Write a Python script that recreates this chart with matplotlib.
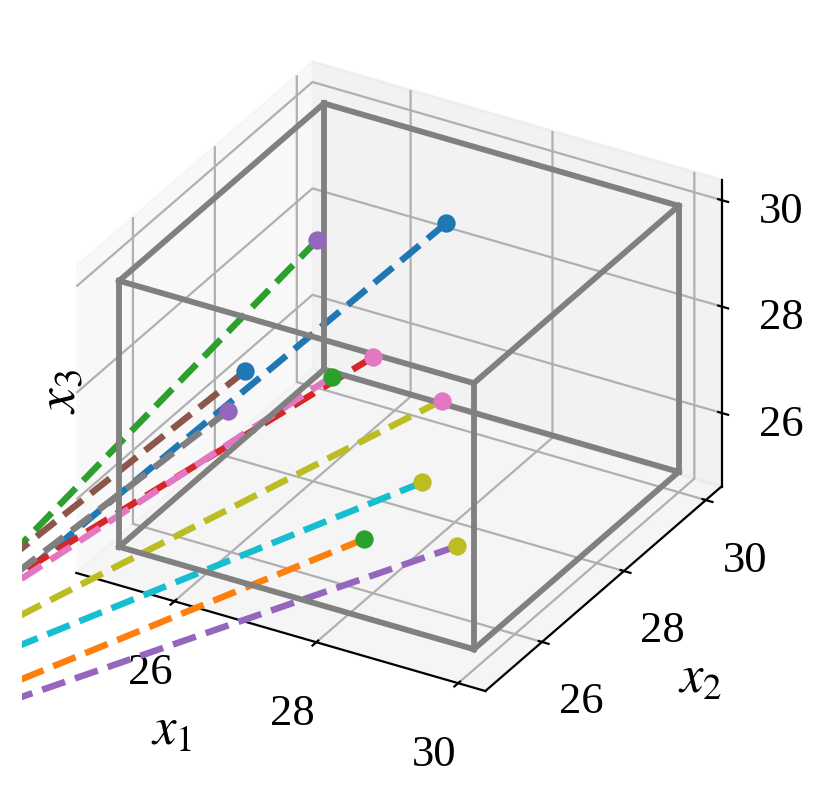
import numpy as np
import matplotlib
matplotlib.use("Agg")
import matplotlib.pyplot as plt

plt.rcParams['font.family'] = ['Liberation Serif']
plt.rcParams['mathtext.fontset'] = 'stix'
plt.rcParams['font.size'] = 16

# box corners
box_lo = 25.0
box_hi = 30.0
lim_lo = 24.617
lim_hi = 30.383

# points inside the box, and where their dashed lines go (outside the axes)
point_x1 = [27.30, 27.87, 26.06, 26.85, 29.19, 26.20, 26.84, 25.96, 28.39, 28.12]
point_x2 = [29.00, 26.00, 28.00, 28.00, 26.00, 26.00, 27.00, 26.00, 27.00, 27.00]
point_x3 = [29.30, 25.58, 29.17, 27.28, 25.96, 28.10, 27.57, 27.26, 27.72, 26.08]
far_x1 = [24.05] * 10
far_x2 = [24.0] * 10
far_x3 = [24.60, 22.73, 25.15, 24.71, 22.41, 25.11, 24.57, 24.73, 23.92, 23.38]
line_colors = ['C0', 'C1', 'C2', 'C3', 'C4', 'C5', 'C6', 'C7', 'C8', 'C9']
dot_colors = ['C0', 'C2', 'C4', 'C6', 'C8', 'C0', 'C2', 'C4', 'C6', 'C8']

fig = plt.figure(figsize=(4.14, 3.99), dpi=200)
ax = fig.add_axes([22/828, 1 - 753.25/798, 734/828, 734/798], projection='3d')
ax.set_proj_type('ortho')
ax.computed_zorder = False

for i in range(10):
    ax.plot([point_x1[i], far_x1[i]], [point_x2[i], far_x2[i]], [point_x3[i], far_x3[i]],
            '--', color=line_colors[i], lw=2.35, zorder=2)
    ax.plot([point_x1[i]], [point_x2[i]], [point_x3[i]], 'o', color=dot_colors[i], ms=6.6, mew=0, zorder=4)

c = [box_lo, box_hi]
for a in c:
    for b in c:
        ax.plot([box_lo, box_hi], [a, a], [b, b], color='gray', lw=2.1, zorder=3)
        ax.plot([a, a], [box_lo, box_hi], [b, b], color='gray', lw=2.1, zorder=3)
        ax.plot([a, a], [b, b], [box_lo, box_hi], color='gray', lw=2.1, zorder=3)

ax.set_xlim(lim_lo, lim_hi)
ax.set_ylim(lim_lo, lim_hi)
ax.set_zlim(lim_lo, lim_hi)
ax.set_xticks([26, 28, 30])
ax.set_yticks([26, 28, 30])
ax.set_zticks([26, 28, 30])
ax.tick_params(labelsize=16)
ax.tick_params(axis='x', pad=6.0)
ax.tick_params(axis='y', pad=5.1)
ax.tick_params(axis='z', pad=4.8)

fig.text(172/828, 1 - 732/798, '$x_1$', fontsize=19, ha='center', va='center')
fig.text(700/828, 1 - 680/798, '$x_2$', fontsize=19, ha='center', va='center')
fig.text(61/828, 1 - 392/798, '$x_3$', fontsize=20, ha='center', va='center', rotation=90)
fig.savefig('out.png', dpi=200)
